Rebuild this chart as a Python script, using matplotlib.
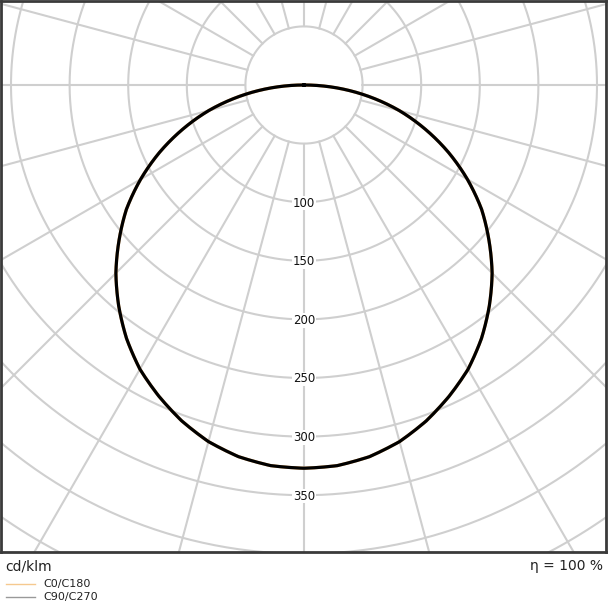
import matplotlib
matplotlib.use('Agg')
import matplotlib.pyplot as plt
import numpy as np

# Luminous intensity (cd/klm), gamma in degrees
gamma_deg = [0, 5, 10, 15, 20, 25, 30, 35, 40, 45,
             50, 55, 60, 65, 70, 75, 80, 85, 90]
c0_c180 = [327, 326, 322, 315, 305, 293, 280, 264, 246, 227,
           206, 185, 161, 136, 110, 84, 56, 28, 0]
c90_c270 = [327, 326, 322, 315, 305, 293, 280, 264, 246, 227,
            206, 185, 161, 136, 110, 84, 56, 28, 0]

ring_values = [50, 100, 150, 200, 250, 300, 350, 400, 450, 500]
ring_labels = [100, 150, 200, 250, 300, 350]
ray_step = 15
efficiency = 100

GRID = '#cfcfcf'
FRAME = '#3a3a3a'

fig = plt.figure(figsize=(6.08, 6.08), dpi=100)
ax = fig.add_axes([1 / 608, 56 / 608, 605 / 608, 551 / 608])

px = 1.172  # pixels per cd/klm
ax.set_xlim(-303 / px, 302 / px)
ax.set_ylim(-(552 - 85) / px, 84 / px)

# rings
t = np.linspace(0, 2 * np.pi, 721)
for r in ring_values:
    ax.plot(r * np.cos(t), r * np.sin(t), color=GRID, lw=1.5, zorder=1)

# rays from the first ring outwards
for a in np.arange(0, 360, ray_step):
    th = np.radians(a)
    ax.plot([50 * np.cos(th), 600 * np.cos(th)],
            [50 * np.sin(th), 600 * np.sin(th)], color=GRID, lw=1.5, zorder=1)

for v in ring_labels:
    ax.text(0, -v - 0.8, str(v), ha='center', va='center', fontsize=8.5,
            color='#111111', zorder=3,
            bbox=dict(facecolor='white', edgecolor='none', pad=0.5))


def full_curve(vals):
    # interpolate in polar space, mirror for the left half
    g = np.linspace(-90, 90, 361)
    v = np.interp(np.abs(g), gamma_deg, vals)
    gr = np.radians(g)
    return v * np.sin(gr), -v * np.cos(gr)


x0, y0 = full_curve(c0_c180)
ax.plot(x0, y0, color='#f5b56a', lw=2.3, zorder=4)
x9, y9 = full_curve(c90_c270)
ax.plot(x9, y9, color='black', lw=2.3, zorder=5)

ax.set_xticks([])
ax.set_yticks([])
for s in ax.spines.values():
    s.set_color(FRAME)
    s.set_linewidth(2)

fig.text(5 / 608, 1 - 566 / 608, 'cd/klm', ha='left', va='center',
         fontsize=10, color='#222222')
fig.text(603 / 608, 1 - 566 / 608, 'η = {} %'.format(efficiency), ha='right',
         va='center', fontsize=10, color='#222222')

# legend
for yy, col, lab in [(584, '#f5c98f', 'C0/C180'), (597, '#999999', 'C90/C270')]:
    fig.add_artist(plt.Line2D([6 / 608, 35 / 608], [1 - yy / 608, 1 - yy / 608],
                              color=col, lw=1, transform=fig.transFigure))
    fig.text(43 / 608, 1 - yy / 608, lab, ha='left', va='center',
             fontsize=8, color='#222222')

fig.savefig('out.png', dpi=100)
